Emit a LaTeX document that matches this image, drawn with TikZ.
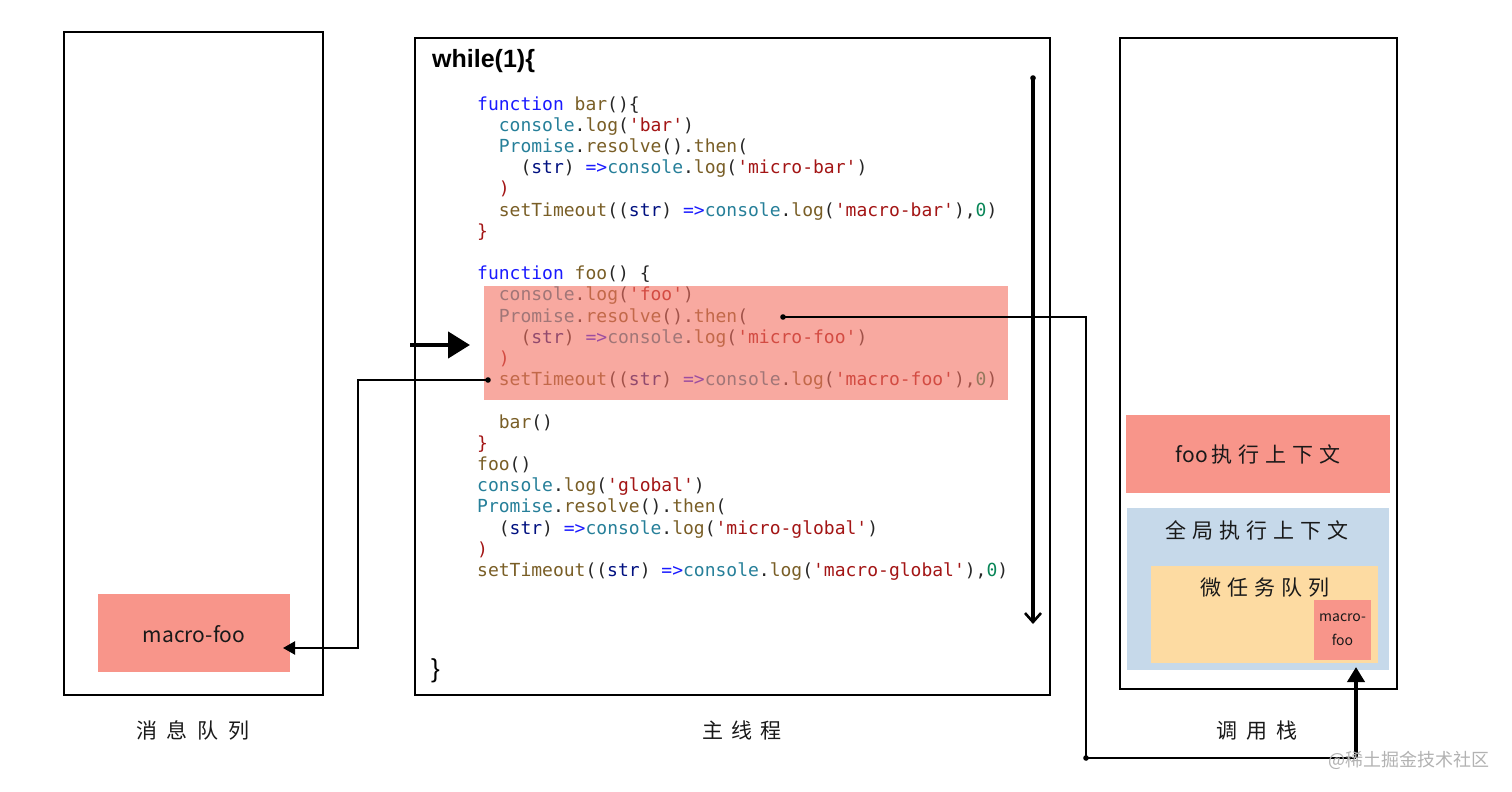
\documentclass[tikz,border=0pt]{standalone}
\usepackage{fontspec}
\setmonofont{DejaVu Sans Mono}
\newfontfamily\cjk{Noto Sans CJK SC}
\newfontfamily\hsans{Liberation Sans}
\usetikzlibrary{arrows.meta}
\definecolor{xkwc}{HTML}{1A1AFF}
\definecolor{xfnc}{HTML}{795E26}
\definecolor{xclc}{HTML}{267F99}
\definecolor{xstc}{HTML}{A31515}
\definecolor{xvac}{HTML}{001080}
\definecolor{xnuc}{HTML}{098658}
\definecolor{salmon}{HTML}{F8958A}
\definecolor{hlred}{RGB}{243,112,97}
\definecolor{lblue}{HTML}{C6D9EA}
\definecolor{lorange}{HTML}{FDDBA2}
\newcommand\xkw[1]{\textcolor{xkwc}{#1}}
\newcommand\xfn[1]{\textcolor{xfnc}{#1}}
\newcommand\xcl[1]{\textcolor{xclc}{#1}}
\newcommand\xst[1]{\textcolor{xstc}{#1}}
\newcommand\xva[1]{\textcolor{xvac}{#1}}
\newcommand\xnu[1]{\textcolor{xnuc}{#1}}
\newcommand\codefont{\ttfamily\fontsize{18}{21}\selectfont}
\begin{document}
\begin{tikzpicture}[x=1pt,y=-1pt,
  frame/.style={draw=black, line width=2pt, anchor=north west, inner sep=0pt, outer sep=0pt},
  fillbox/.style={anchor=north west, inner sep=0pt, outer sep=0pt},
  codeline/.style={anchor=base west, inner sep=0pt, font=\codefont, text=black!85},
  cjklabel/.style={font=\cjk\fontsize{21}{24}\selectfont, text=black!90, inner sep=0pt},
  conn/.style={draw=black, line width=2.2pt},
  dotc/.style={fill=black, radius=2.8pt}
]
\useasboundingbox (0,0) rectangle (1512,792);

% --- message queue ---
\node[frame, minimum width=259pt, minimum height=663pt] (msgq) at (64,32) {};
\node[fillbox, fill=salmon, minimum width=192pt, minimum height=78pt] (mfoo) at (98,594) {};
\node[cjklabel] (mfootxt) at (194,634) {macro-foo};
\node[cjklabel] (msgqlbl) at (193,730) {消\hspace{10pt}息\hspace{10pt}队\hspace{10pt}列};

% --- main thread ---
\node[frame, minimum width=635pt, minimum height=657pt] (main) at (415,38) {};
\node[anchor=base west, inner sep=0pt, font=\hsans\bfseries\fontsize{25}{28}\selectfont] (whl) at (432,67) {while(1)\{};
\node[anchor=base west, inner sep=0pt, font=\hsans\fontsize{26}{28}\selectfont] (whlend) at (431,677) {\}};
\node[cjklabel] (mainlbl) at (742,730) {主\hspace{8pt}线\hspace{8pt}程};

% code lines
\def\bx{477}
\def\cw{10.84}
\def\ly{21.2}
\node[codeline] (l0) at (\bx,110) {\xkw{function} \xfn{bar}()\{};
\node[codeline] (l1) at (\bx+2*\cw,110+1*\ly) {\xcl{console}.\xfn{log}(\xst{'bar'})};
\node[codeline] (l2) at (\bx+2*\cw,110+2*\ly) {\xcl{Promise}.\xfn{resolve}().\xfn{then}(};
\node[codeline] (l3) at (\bx+4*\cw,110+3*\ly) {(\xva{str}) \xkw{=>}\xcl{console}.\xfn{log}(\xst{'micro-bar'})};
\node[codeline] (l4) at (\bx+2*\cw,110+4*\ly) {\xst{)}};
\node[codeline] (l5) at (\bx+2*\cw,110+5*\ly) {\xfn{setTimeout}((\xva{str}) \xkw{=>}\xcl{console}.\xfn{log}(\xst{'macro-bar'}),\xnu{0})};
\node[codeline] (l6) at (\bx,110+6*\ly) {\xst{\}}};
\node[codeline] (l8) at (\bx,110+8*\ly) {\xkw{function} \xfn{foo}() \{};
\node[codeline] (l9) at (\bx+2*\cw,110+9*\ly) {\xcl{console}.\xfn{log}(\xst{'foo'})};
\node[codeline] (l10) at (\bx+2*\cw,110+10*\ly) {\xcl{Promise}.\xfn{resolve}().\xfn{then}(};
\node[codeline] (l11) at (\bx+4*\cw,110+11*\ly) {(\xva{str}) \xkw{=>}\xcl{console}.\xfn{log}(\xst{'micro-foo'})};
\node[codeline] (l12) at (\bx+2*\cw,110+12*\ly) {\xst{)}};
\node[codeline] (l13) at (\bx+2*\cw,110+13*\ly) {\xfn{setTimeout}((\xva{str}) \xkw{=>}\xcl{console}.\xfn{log}(\xst{'macro-foo'}),\xnu{0})};
\node[codeline] (l15) at (\bx+2*\cw,110+15*\ly) {\xfn{bar}()};
\node[codeline] (l16) at (\bx,110+16*\ly) {\xst{\}}};
\node[codeline] (l17) at (\bx,110+17*\ly) {\xfn{foo}()};
\node[codeline] (l18) at (\bx,110+18*\ly) {\xcl{console}.\xfn{log}(\xst{'global'})};
\node[codeline] (l19) at (\bx,110+19*\ly) {\xcl{Promise}.\xfn{resolve}().\xfn{then}(};
\node[codeline] (l20) at (\bx+2*\cw,110+20*\ly) {(\xva{str}) \xkw{=>}\xcl{console}.\xfn{log}(\xst{'micro-global'})};
\node[codeline] (l21) at (\bx,110+21*\ly) {\xst{)}};
\node[codeline] (l22) at (\bx,110+22*\ly) {\xfn{setTimeout}((\xva{str}) \xkw{=>}\xcl{console}.\xfn{log}(\xst{'macro-global'}),\xnu{0})};

% highlight overlay
\node[fillbox, fill=hlred, fill opacity=0.6, minimum width=524pt, minimum height=114pt] (hl) at (484,286) {};

% loop arrow
\coordinate (loopa) at (1033,78);
\coordinate (loopb) at (1033,624);
\fill[dotc] (loopa) circle;
\draw[line width=3.2pt, -{Straight Barb[length=9pt,width=16pt,line width=2.6pt]}] (loopa) -- (loopb);

% feed arrow
\coordinate (feeda) at (410,345);
\coordinate (feedb) at (470,345);
\draw[line width=4.5pt, -{Triangle[length=22pt,width=26pt]}] (feeda) -- (feedb);

% --- call stack ---
\node[frame, minimum width=277pt, minimum height=651pt] (stack) at (1120,38) {};
\node[fillbox, fill=salmon, minimum width=264pt, minimum height=78pt] (fooctx) at (1126,415) {};
\node[cjklabel] (fooctxtxt) at (fooctx.center) {foo\hspace{3pt}执\hspace{6pt}行\hspace{6pt}上\hspace{6pt}下\hspace{6pt}文};
\node[fillbox, fill=lblue, minimum width=262pt, minimum height=162pt] (globctx) at (1127,508) {};
\node[cjklabel] (globtxt) at (1257,530) {全\hspace{6pt}局\hspace{6pt}执\hspace{6pt}行\hspace{6pt}上\hspace{6pt}下\hspace{6pt}文};
\node[fillbox, fill=lorange, minimum width=227pt, minimum height=97pt] (micro) at (1151,566) {};
\node[cjklabel] (microtxt) at (1265,588) {微\hspace{6pt}任\hspace{6pt}务\hspace{6pt}队\hspace{6pt}列};
\node[fillbox, fill=salmon, minimum width=57pt, minimum height=60pt] (mfs) at (1314,600) {};
\node[cjklabel, font=\cjk\fontsize{14}{24}\selectfont, align=center] (mfstxt) at (mfs.center) {macro-\\foo};
\node[cjklabel] (stacklbl) at (1257,731) {调\hspace{9pt}用\hspace{9pt}栈};

% connector: setTimeout -> message queue
\coordinate (st) at (488,380);
\coordinate (c1a) at (358,380);
\coordinate (c1b) at (358,648);
\coordinate (mfin) at (283,648);
\fill[dotc] (st) circle;
\draw[conn, -{Triangle[length=12pt,width=13pt]}] (st) -- (c1a) -- (c1b) -- (mfin);

% connector: Promise.then -> microtask queue
\coordinate (th) at (783,317);
\coordinate (c2a) at (1086,317);
\coordinate (c2b) at (1086,758);
\coordinate (c2c) at (1356,758);
\coordinate (mfsin) at (1356,667);
\fill[dotc] (th) circle;
\fill[dotc] (c2b) circle;
\draw[conn] (th) -- (c2a) -- (c2b) -- (c2c);
\draw[line width=3.8pt, -{Triangle[length=15pt,width=17pt]}] (c2c) -- (mfsin);

% watermark
\node[anchor=east, inner sep=0pt, font=\cjk\fontsize{18}{20}\selectfont, text=black!30] (wm) at (1490,760) {@稀土掘金技术社区};
\end{tikzpicture}
\end{document}
